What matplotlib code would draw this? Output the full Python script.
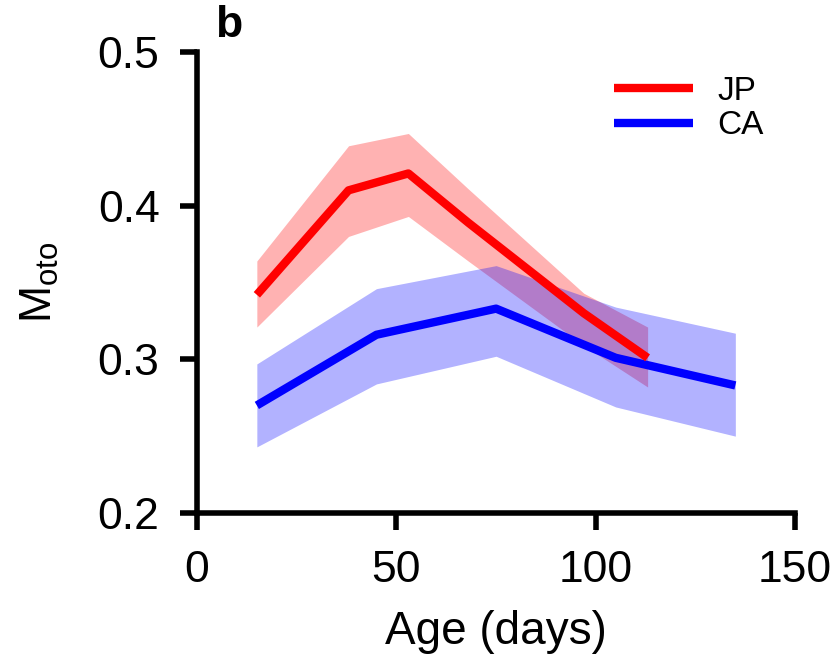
import numpy as np
import matplotlib.pyplot as plt

plt.rcParams['font.family'] = ['Liberation Sans', 'DejaVu Sans']
plt.rcParams['mathtext.fontset'] = 'custom'
plt.rcParams['mathtext.rm'] = 'Liberation Sans'

# JP series
jp_age = [15, 38, 53, 68, 97, 113]
jp_mean = [0.342, 0.410, 0.421, 0.389, 0.330, 0.301]
jp_upper = [0.364, 0.439, 0.447, 0.411, 0.343, 0.321]
jp_lower = [0.321, 0.380, 0.393, 0.364, 0.309, 0.282]

# CA series
ca_age = [15, 45, 75, 105, 135]
ca_mean = [0.270, 0.316, 0.333, 0.301, 0.283]
ca_upper = [0.297, 0.346, 0.361, 0.334, 0.317]
ca_lower = [0.243, 0.284, 0.302, 0.269, 0.250]

xticks = [0, 50, 100, 150]
yticks = [0.2, 0.3, 0.4, 0.5]

fig = plt.figure(figsize=(8.37, 6.59), dpi=100)
ax = fig.add_axes([0.2354, 0.2216, 0.7146, 0.6994])

ax.fill_between(jp_age, jp_lower, jp_upper, color='red', alpha=0.3, lw=0)
ax.fill_between(ca_age, ca_lower, ca_upper, color='blue', alpha=0.3, lw=0)
ax.plot(ca_age, ca_mean, color='blue', lw=6, label='CA', solid_capstyle='butt')
ax.plot(jp_age, jp_mean, color='red', lw=6, label='JP', solid_capstyle='butt')

ax.set_xlim(0, 150)
ax.set_ylim(0.2, 0.5)
ax.set_xticks(xticks)
ax.set_yticks(yticks)
ax.set_yticklabels(['0.2', '0.3', '0.4', '0.5'])
ax.spines['top'].set_visible(False)
ax.spines['right'].set_visible(False)
ax.spines['left'].set_linewidth(4)
ax.spines['bottom'].set_linewidth(4)
ax.tick_params(width=4, length=12, labelsize=32)
ax.tick_params(axis='x', pad=15)
ax.tick_params(axis='y', pad=15)

ax.set_xlabel('Age (days)', fontsize=33, labelpad=13)
ax.set_ylabel(r'M$_{\mathrm{oto}}$', fontsize=32)
ax.yaxis.set_label_coords(-0.228, 0.5)

h, l = ax.get_legend_handles_labels()
ax.legend(h[::-1], l[::-1], loc='upper left',
          bbox_to_anchor=(614 / 837, 1 - 76 / 659), bbox_transform=fig.transFigure,
          borderpad=0, borderaxespad=0, frameon=False, fontsize=24,
          handlelength=2.37, labelspacing=0.1, handletextpad=0.72)

fig.text(215 / 837, 1 - 5 / 659, 'b', fontsize=32, fontweight='bold', va='top')

fig.savefig('out.png', dpi=100)
